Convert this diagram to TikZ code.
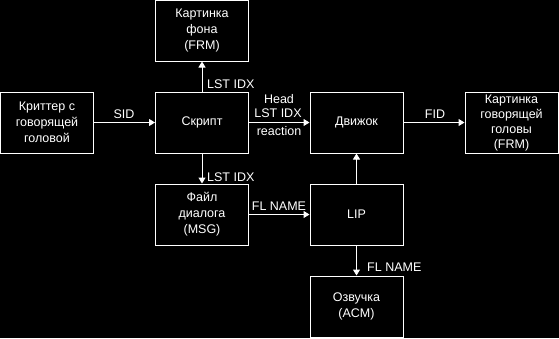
\documentclass[tikz,border=0pt]{standalone}
\usepackage{fontspec}
\setmainfont{Liberation Sans}
\usetikzlibrary{arrows.meta}
\begin{document}
\begin{tikzpicture}[x=1pt,y=-1pt,
  every node/.style={font=\fontsize{12.5}{16}\selectfont, text=white},
  blk/.style={draw=white, line width=1pt, minimum width=93pt, minimum height=61pt,
    inner sep=0pt, align=center},
  lbl/.style={inner sep=0pt, align=center},
  flow/.style={draw=white, line width=1pt, -{Triangle[length=6pt,width=7pt]}}]
  \fill[black] (0,0) rectangle (559,338);
  \useasboundingbox (0,0) rectangle (559,338);

  % blocks
  \node[blk] (critter) at (47,122.5) {Криттер с\\говорящей\\головой};
  \node[blk] (script)  at (202,122.5) {Скрипт};
  \node[blk] (bgpic)   at (202,30.5) {Картинка\\фона\\(FRM)};
  \node[blk] (engine)  at (356.5,122.5) {Движок};
  \node[blk, font=\fontsize{12.5}{15}\selectfont] (headpic) at (511.5,122.5) {Картинка\\говорящей\\головы\\(FRM)};
  \node[blk] (dialog)  at (202,214.5) {Файл\\диалога\\(MSG)};
  \node[blk] (lip)     at (356.5,214.5) {LIP};
  \node[blk] (voice)   at (356.5,306.5) {Озвучка\\(ACM)};

  % connectors
  \draw[flow] (critter) -- (script);
  \draw[flow] (script) -- (bgpic);
  \draw[flow] (script) -- (engine);
  \draw[flow] (engine) -- (headpic);
  \draw[flow] (script) -- (dialog);
  \draw[flow] (dialog) -- (lip);
  \draw[flow] (lip) -- (engine);
  \draw[flow] (lip) -- (voice);

  % connector labels
  \node[lbl] (sid) at (124,114) {SID};
  \node[lbl, anchor=west] (lstup) at (207,84) {LST IDX};
  \node[lbl] (head) at (279,99.5) {Head};
  \node[lbl] (lstmid) at (278,113.5) {LST IDX};
  \node[lbl] (react) at (279,131) {reaction};
  \node[lbl] (fid) at (435,114) {FID};
  \node[lbl, anchor=west] (lstdown) at (207,177) {LST IDX};
  \node[lbl] (flright) at (279,206) {FL NAME};
  \node[lbl, anchor=west] (fldown) at (367,267.5) {FL NAME};
\end{tikzpicture}
\end{document}
